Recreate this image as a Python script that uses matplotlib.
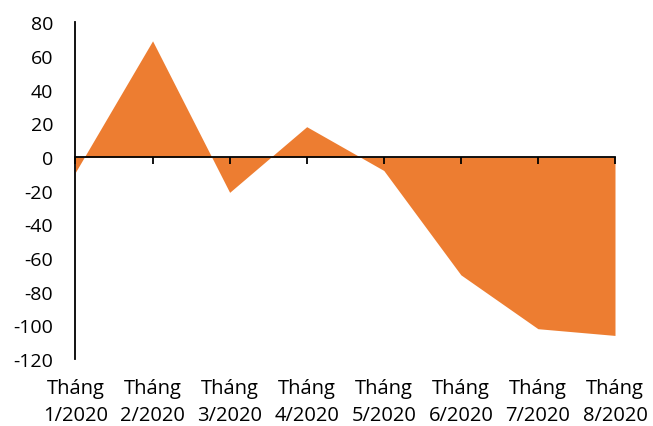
import matplotlib
matplotlib.use("Agg")
import matplotlib.pyplot as plt

plt.rcParams['font.family'] = ['Open Sans', 'DejaVu Sans']

categories = ["Tháng\n1/2020", "Tháng\n2/2020", "Tháng\n3/2020", "Tháng\n4/2020",
              "Tháng\n5/2020", "Tháng\n6/2020", "Tháng\n7/2020", "Tháng\n8/2020"]
values = [-9, 69, -21, 18, -8, -70, -102, -106]
y_ticks = [-120, -100, -80, -60, -40, -20, 0, 20, 40, 60, 80]

fig = plt.figure(figsize=(6.53, 4.27), dpi=100)
ax = fig.add_axes([0.1156, 0.1569, 0.8262, 0.7885])

x = list(range(len(values)))
ax.fill_between(x, values, 0, color="#ED7D31", linewidth=0, zorder=1)

ax.set_xlim(0, len(values) - 1)
ax.set_ylim(-120, 80)
ax.set_yticks(y_ticks)
ax.set_yticklabels([str(v) for v in y_ticks])
ax.tick_params(axis='y', length=0, pad=16, labelsize=14)

for side in ("top", "right"):
    ax.spines[side].set_visible(False)
ax.spines["left"].set_linewidth(1.3)
ax.spines["left"].set_color("black")

# horizontal axis line drawn at zero with downward tick marks
ax.spines["bottom"].set_position(("data", 0))
ax.spines["bottom"].set_linewidth(1.3)
ax.set_xticks(x)
ax.tick_params(axis='x', length=5, width=1.3, direction='out', labelbottom=False)

# category labels placed at the bottom of the plot area
sec = ax.secondary_xaxis('bottom')
sec.set_xticks(x)
sec.set_xticklabels(categories, linespacing=1.45)
sec.tick_params(axis='x', length=0, pad=14, labelsize=14.5)
sec.spines["bottom"].set_visible(False)

fig.savefig("out.png", dpi=100)
